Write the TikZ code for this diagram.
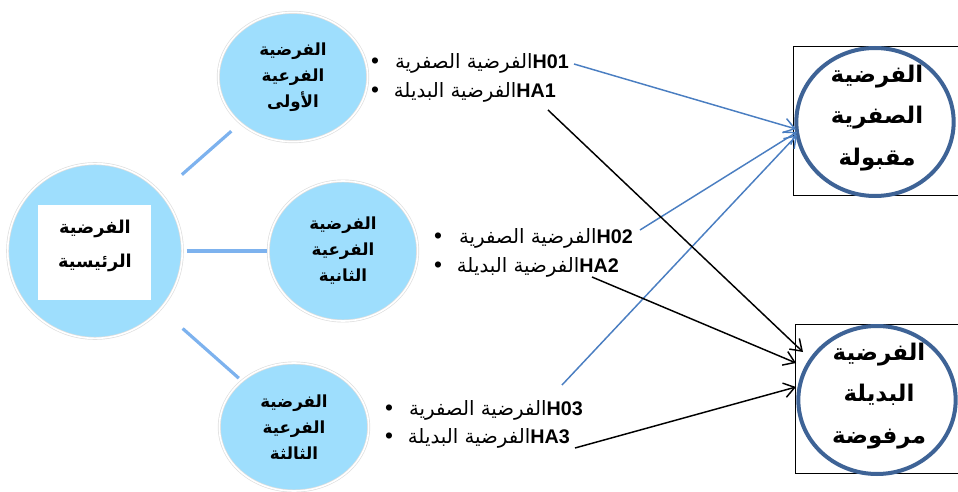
\documentclass[tikz,border=0pt]{standalone}
\usepackage{fontspec}
\setmainfont{Liberation Sans}
\newfontfamily\arfont[Script=Arabic]{DejaVu Sans}
\TeXXeTstate=1
\usetikzlibrary{shapes.geometric,arrows.meta}
\definecolor{cfill}{RGB}{158,222,253}
\definecolor{cline}{RGB}{125,178,238}
\definecolor{barrowc}{RGB}{74,126,193}
\definecolor{eblue}{RGB}{62,99,150}
\newcommand{\artxt}[1]{{\arfont\beginR #1\endR}}
\begin{document}
\begin{tikzpicture}[x=0.75pt,y=-0.75pt,
  bubble/.style={fill=cfill,draw=black!13,double=white,double distance=1.2pt,line width=0.5pt,inner sep=0pt},
  mainc/.style={bubble,circle,minimum size=131pt},
  subc/.style={bubble,ellipse,minimum width=112pt,align=center,font=\bfseries\fontsize{12.5}{19.5}\selectfont},
  link/.style={draw=cline,line width=2.4pt},
  listtxt/.style={anchor=east,inner sep=0pt,font=\fontsize{14.8}{16}\selectfont},
  bul/.style={inner sep=0pt,font=\fontsize{17}{18}\selectfont},
  barrow/.style={draw=barrowc,line width=1.1pt,-{Straight Barb[length=8pt,width=11pt]}},
  karrow/.style={draw=black,line width=1.1pt,-{Straight Barb[length=8pt,width=11pt]}},
  outbox/.style={draw=black,line width=1pt,anchor=north west,minimum width=130pt,minimum height=111.75pt,inner sep=0pt},
  resc/.style={ellipse,draw=eblue,line width=3pt,fill=white,minimum width=118pt,minimum height=111pt,inner sep=0pt},
  reslbl/.style={align=center,inner sep=0pt,font=\bfseries\fontsize{17.2}{31}\selectfont}
]
\useasboundingbox (0,0) rectangle (958,492);

% main hypothesis
\node[mainc] (main) at (95,251) {};
\node[fill=white,minimum width=84.75pt,minimum height=71.25pt,inner sep=0pt] (mainbox) at (94.5,252.5) {};
\node[align=center,inner sep=0pt,font=\bfseries\fontsize{13.3}{25.5}\selectfont] (mainlbl) at (95,246)
      {\artxt{الفرضية}\\\artxt{الرئيسية}};

% sub hypotheses
\node[subc,minimum height=97pt] (s1) at (293,77) {\artxt{الفرضية}\\\artxt{الفرعية}\\\artxt{الأولى}};
\node[subc,minimum height=105pt] (s2) at (343,251) {\artxt{الفرضية}\\\artxt{الفرعية}\\\artxt{الثانية}};
\node[subc,minimum height=96pt] (s3) at (294,427) {\artxt{الفرضية}\\\artxt{الفرعية}\\\artxt{الثالثة}};

\draw[link,shorten <=21pt,shorten >=9pt] (main) -- (s1);
\draw[link,shorten <=3pt,shorten >=1pt] (main) -- (s2);
\draw[link,shorten <=22pt,shorten >=3pt] (main) -- (s3);

% hypothesis lists
\node[bul] (b11) at (375,63) {\textbullet};
\node[bul] (b12) at (375,92) {\textbullet};
\node[listtxt] (h01) at (569,63) {\artxt{الفرضية الصفرية}\textbf{H01}};
\node[listtxt] (ha1) at (556,92) {\artxt{الفرضية البديلة}\textbf{HA1}};

\node[bul] (b21) at (438,238) {\textbullet};
\node[bul] (b22) at (438,267) {\textbullet};
\node[listtxt] (h02) at (633,238) {\artxt{الفرضية الصفرية}\textbf{H02}};
\node[listtxt] (ha2) at (619,267) {\artxt{الفرضية البديلة}\textbf{HA2}};

\node[bul] (b31) at (389,410) {\textbullet};
\node[bul] (b32) at (389,438) {\textbullet};
\node[listtxt] (h03) at (583,410) {\artxt{الفرضية الصفرية}\textbf{H03}};
\node[listtxt] (ha3) at (570,438) {\artxt{الفرضية البديلة}\textbf{HA3}};

% result boxes
\node[outbox] (r1) at (793,46) {};
\node[resc] (e1) at (875,122) {};
\node[reslbl] (e1lbl) at (877,118) {\artxt{الفرضية}\\\artxt{الصفرية}\\\artxt{مقبولة}};
\node[outbox] (r2) at (795,324) {};
\node[resc] (e2) at (877,400) {};
\node[reslbl] (e2lbl) at (879,396) {\artxt{الفرضية}\\\artxt{البديلة}\\\artxt{مرفوضة}};

% arrow targets
\coordinate (tA1) at (796,129);
\coordinate (tA2) at (797,132);
\coordinate (tA3) at (797,135);
\coordinate (tB1) at (803,352);
\coordinate (tB2) at (796,363);
\coordinate (tB3) at (796,387);

\draw[barrow] ([shift={(5,1)}]h01.east) -- (tA1);
\draw[barrow] ([shift={(7,-8)}]h02.east) -- (tA2);
\draw[barrow] ([shift={(-21,-25)}]h03.east) -- (tA3);
\draw[karrow] ([shift={(-8,18)}]ha1.east) -- (tB1);
\draw[karrow] ([shift={(-27,10)}]ha2.east) -- (tB2);
\draw[karrow] ([shift={(5,10)}]ha3.east) -- (tB3);
\end{tikzpicture}
\end{document}
